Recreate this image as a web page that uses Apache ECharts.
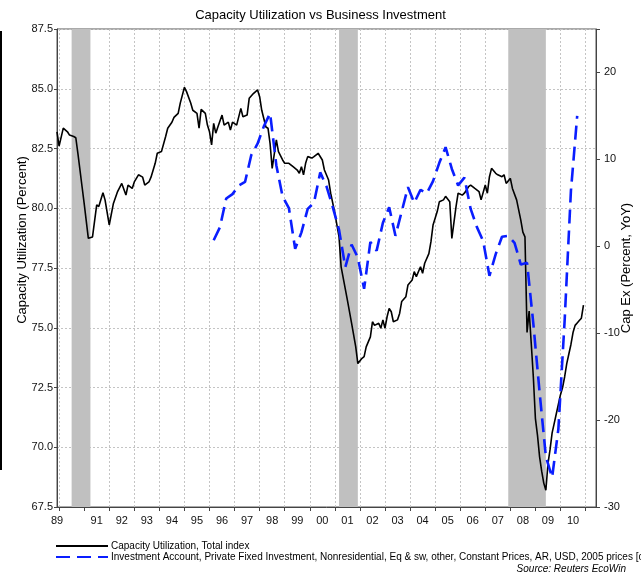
<!DOCTYPE html>
<html>
<head>
<meta charset="utf-8">
<script src="https://cdn.jsdelivr.net/npm/echarts@6/dist/echarts.min.js"></script>
<style>
  html, body { margin: 0; padding: 0; background: #fff; }
  #chart { width: 641px; height: 576px; }
</style>
</head>
<body>
<div id="chart"></div>
<script>
// capacity utilization, monthly (percent)
const capUtilMonths = [
  '1989-12','1990-01','1990-03','1990-05','1990-06','1990-08','1990-09','1990-10','1990-12',
  '1991-01','1991-03','1991-05','1991-07','1991-08','1991-10','1991-11',
  '1992-01','1992-03','1992-05','1992-07','1992-09','1992-10','1992-12',
  '1993-01','1993-03','1993-05','1993-06','1993-08','1993-09','1993-11','1993-12',
  '1994-02','1994-04','1994-05','1994-07','1994-08','1994-10','1994-11',
  '1995-01','1995-02','1995-04','1995-05','1995-07','1995-08','1995-09','1995-11','1995-12',
  '1996-01','1996-02','1996-03','1996-04','1996-05','1996-07','1996-08','1996-10','1996-11','1996-12',
  '1997-02','1997-04','1997-05','1997-07','1997-08','1997-10','1997-12',
  '1998-01','1998-02','1998-04','1998-05','1998-06','1998-07','1998-09','1998-10','1998-12',
  '1999-01','1999-03','1999-05','1999-07','1999-08','1999-09','1999-10','1999-11','1999-12',
  '2000-02','2000-03','2000-05','2000-07','2000-08','2000-10','2000-11',
  '2001-01','2001-03','2001-04','2001-07','2001-09','2001-11','2001-12',
  '2002-02','2002-03','2002-04','2002-06','2002-07','2002-08','2002-10','2002-11','2002-12',
  '2003-01','2003-02','2003-03','2003-04','2003-05','2003-07','2003-08','2003-09','2003-11','2003-12',
  '2004-02','2004-03','2004-04','2004-06','2004-07','2004-08','2004-10','2004-11','2004-12',
  '2005-02','2005-03','2005-05','2005-06','2005-08','2005-09','2005-11','2005-12',
  '2006-02','2006-03','2006-05','2006-06','2006-08','2006-10','2006-11',
  '2007-01','2007-02','2007-03','2007-04','2007-06','2007-07','2007-09','2007-10','2007-11',
  '2008-01','2008-02','2008-04','2008-06','2008-07','2008-08','2008-09','2008-10','2008-11','2008-12',
  '2009-01','2009-02','2009-03','2009-04','2009-05','2009-06','2009-07','2009-08','2009-09','2009-10','2009-11','2009-12',
  '2010-01','2010-02','2010-03','2010-04','2010-05','2010-06','2010-07','2010-08','2010-09','2010-10','2010-11','2010-12'
];
const capUtilValues = [
  83.2, 82.6, 83.35, 83.2, 83.06, 83.0, 82.95, 82.3, 80.9,
  80.2, 78.74, 78.8, 80.14, 80.07, 80.65, 80.35,
  79.3, 80.2, 80.7, 81.04, 80.55, 80.97, 80.83,
  81.1, 81.4, 81.3, 80.97, 81.1, 81.3, 81.88, 82.3,
  82.37, 83.0, 83.35, 83.6, 83.8, 83.97, 84.4,
  85.06, 84.88, 84.4, 84.1, 83.97, 83.35, 84.14, 83.97, 83.48,
  83.2, 82.65, 83.55, 83.14, 83.4, 83.9, 83.48, 83.6, 83.27, 83.6,
  83.48, 84.18, 83.83, 83.9, 84.6, 84.8, 84.95,
  84.67, 84.1, 83.4, 83.35, 82.7, 81.67, 82.86, 82.37, 82.02,
  81.88, 81.88, 81.74, 81.6, 81.46, 81.74, 81.4, 81.88, 82.16,
  82.1, 82.16, 82.3, 82.02, 81.6, 81.18, 80.63,
  79.79, 78.8, 77.55, 76.16, 75.19, 74.2, 73.5,
  73.72, 73.79, 74.2, 74.62, 75.25, 75.1, 75.19, 74.98, 75.33,
  74.98, 75.46, 75.81, 75.67, 75.25, 75.33, 75.6, 76.1, 76.3, 76.79,
  77.0, 77.35, 77.14, 77.55, 77.28, 77.7, 78.1, 78.6, 79.3,
  79.86, 80.27, 80.35, 80.5, 80.27, 78.74, 80.07, 80.63,
  80.55, 80.63, 80.9, 80.97, 80.83, 80.7, 80.35,
  80.97, 80.63, 81.32, 81.67, 81.46, 81.4, 81.32, 81.4, 81.04,
  81.25, 80.83, 80.35, 79.5, 79.0, 78.8, 74.8, 75.7, 74.35, 72.95,
  71.2, 70.5, 69.6, 69.0, 68.5, 68.2, 69.3, 69.9, 70.6, 71.0, 71.4, 71.8,
  72.2, 72.5, 72.95, 73.5, 73.9, 74.3, 74.8, 75.1, 75.2, 75.3, 75.4, 75.95
];

// business investment, quarterly, percent YoY
const capexQuarters = [
  '1996-03','1996-06','1996-09','1996-12','1997-03','1997-06','1997-09','1997-12',
  '1998-03','1998-06','1998-09','1998-12','1999-03','1999-06','1999-09','1999-12',
  '2000-03','2000-06','2000-09','2000-12','2001-03','2001-06','2001-09','2001-12',
  '2002-03','2002-06','2002-09','2002-12','2003-03','2003-06','2003-09','2003-12',
  '2004-03','2004-06','2004-09','2004-12','2005-03','2005-06','2005-09','2005-12',
  '2006-03','2006-06','2006-09','2006-12','2007-03','2007-06','2007-09','2007-12',
  '2008-03','2008-06','2008-09','2008-12','2009-03','2009-06','2009-09','2009-12',
  '2010-03','2010-06','2010-09'
];
const capexValues = [
  0.7, 2.2, 5.5, 6.0, 7.0, 7.4, 10.5, 11.8,
  13.8, 15.3, 9.3, 5.7, 4.4, -0.3, 1.6, 4.3,
  5.0, 8.5, 6.9, 4.5, 1.9, -2.4, 0.2, -1.3,
  -4.9, 0.5, -0.5, 2.7, 4.5, 1.2, 4.0, 6.8,
  5.0, 6.5, 6.1, 7.5, 9.6, 11.4, 8.9, 7.0,
  7.9, 4.3, 2.2, 0.6, -3.4, -0.9, 1.1, 1.2,
  0.4, -2.1, -1.9, -8.9, -16.8, -24.2, -26.6, -21.0,
  -8.5, 6.4, 15.0
];

// recession bands (start month, end month)
const recessions = [
  ['1990-07', '1991-04'],
  ['2001-03', '2001-12'],
  ['2007-12', '2009-06']
];

// x axis runs monthly from Dec 1989 to Jun 2011
const months = [];
for (let y = 1989; y <= 2011; y++) {
  for (let m = 1; m <= 12; m++) {
    if (y === 1989 && m < 12) continue;
    if (y === 2011 && m > 6) break;
    months.push(y + '-' + (m < 10 ? '0' + m : m));
  }
}

const FONT = 'Liberation Sans, Arial, sans-serif';
const chart = echarts.init(document.getElementById('chart'));

chart.setOption({
  animation: false,
  textStyle: { fontFamily: FONT, color: '#000' },
  title: {
    text: 'Capacity Utilization vs Business Investment',
    left: 'center',
    top: 4,
    textStyle: { fontSize: 13, fontWeight: 'normal', color: '#000', fontFamily: FONT }
  },
  legend: {
    orient: 'vertical',
    left: 55,
    top: 541,
    padding: 0,
    itemWidth: 52,
    itemHeight: 10,
    itemGap: 1,
    itemStyle: { opacity: 0 },
    textStyle: { fontSize: 10, color: '#000', fontFamily: FONT, padding: [0, 0, 0, -2] },
    data: [
      'Capacity Utilization, Total index',
      'Investment Account, Private Fixed Investment, Nonresidential, Eq & sw, other, Constant Prices, AR, USD, 2005 prices [c.o.p 12 months]'
    ]
  },
  grid: {
    left: 57, right: 45, top: 29, bottom: 69,
    outerBoundsMode: 'none',
    show: true, borderColor: '#555', borderWidth: 1
  },
  xAxis: {
    type: 'category',
    data: months,
    boundaryGap: false,
    axisLine: { onZero: false, lineStyle: { color: '#444', width: 1 } },
    axisTick: {
      length: 4,
      interval: (i, v) => v.endsWith('-01'),
      lineStyle: { color: '#444' }
    },
    splitLine: {
      show: true,
      interval: (i, v) => v.endsWith('-01'),
      lineStyle: { color: '#c4c4c4', type: [2, 2] }
    },
    axisLabel: {
      interval: (i, v) => i === 0 || (v.endsWith('-07') && v !== '1990-07'),
      formatter: v => v.slice(2, 4),
      fontSize: 11,
      color: '#111',
      margin: 8
    }
  },
  yAxis: [{
    type: 'value',
    min: 67.5,
    max: 87.5,
    interval: 2.5,
    name: 'Capacity Utilization (Percent)',
    nameLocation: 'middle',
    nameRotate: 90,
    nameGap: 28,
    nameMoveOverlap: false,
    nameTextStyle: { fontSize: 13, color: '#000', padding: [0, 0, 0, 56] },
    axisLine: { show: true, lineStyle: { color: '#444' } },
    axisTick: { show: true, length: 3, lineStyle: { color: '#444' } },
    axisLabel: { formatter: v => v.toFixed(1), fontSize: 11, color: '#111', margin: 4 },
    splitLine: { lineStyle: { color: '#c4c4c4', type: [2, 2] } }
  }, {
    type: 'value',
    min: -30,
    max: 25,
    interval: 10,
    position: 'right',
    name: 'Cap Ex (Percent, YoY)',
    nameLocation: 'middle',
    nameRotate: 90,
    nameGap: 24,
    nameMoveOverlap: false,
    nameTextStyle: { fontSize: 13, color: '#000' },
    axisLine: { show: true, lineStyle: { color: '#444' } },
    axisTick: { show: true, length: 4, lineStyle: { color: '#444' } },
    axisLabel: { formatter: v => (v > 20 ? '' : String(v)), fontSize: 11, color: '#111', margin: 8 },
    splitLine: { show: false }
  }],
  series: [{
    name: 'Capacity Utilization, Total index',
    type: 'line',
    yAxisIndex: 0,
    symbol: 'none',
    data: capUtilMonths.map((m, i) => [m, capUtilValues[i]]),
    lineStyle: { color: '#000', width: 1.6 },
    itemStyle: { color: '#000' },
    z: 3,
    markArea: {
      silent: true,
      itemStyle: { color: '#c0c0c0' },
      data: recessions.map(r => [{ xAxis: r[0] }, { xAxis: r[1] }])
    }
  }, {
    name: 'Investment Account, Private Fixed Investment, Nonresidential, Eq & sw, other, Constant Prices, AR, USD, 2005 prices [c.o.p 12 months]',
    type: 'line',
    yAxisIndex: 1,
    symbol: 'none',
    data: capexQuarters.map((m, i) => [m, capexValues[i]]),
    lineStyle: { color: '#0a1eff', width: 2.6, type: [14, 7] },
    itemStyle: { color: '#0a1eff' },
    z: 4
  }],
  graphic: [{
    type: 'text',
    right: 15,
    top: 564,
    style: {
      text: 'Source: Reuters EcoWin',
      font: 'italic 10px ' + FONT,
      fill: '#000'
    }
  }, {
    type: 'line',
    shape: { x1: 1, y1: 31, x2: 1, y2: 470 },
    style: { stroke: '#000', lineWidth: 2 }
  }]
});
</script>
</body>
</html>
